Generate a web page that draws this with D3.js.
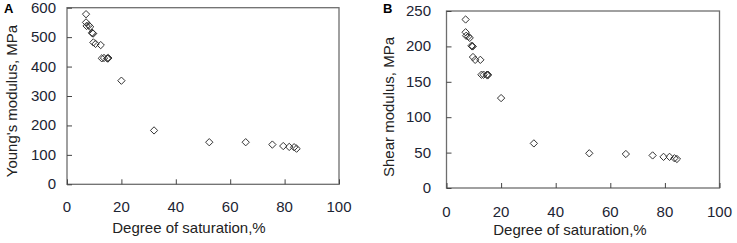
<!DOCTYPE html>
<html>
<head>
<meta charset="utf-8">
<script src="https://cdn.jsdelivr.net/npm/d3@7"></script>
<style>
  body { margin: 0; background: #fff; }
  text { font-family: "Liberation Sans", Arial, sans-serif; }
</style>
</head>
<body>
<script>
// degree of saturation (%) for each sample
const saturation = [7.0, 7.0, 7.2, 8.0, 8.5, 9.2, 9.4, 9.6, 9.7, 10.5, 12.4, 12.8, 13.6, 14.8, 15.0, 15.2,
    20.0, 32.0, 52.3, 65.7, 75.5, 79.5, 81.7, 83.5, 84.4];
const youngs = [578, 550, 538, 540, 535, 515, 513, 512, 482, 477, 473, 428, 429, 428, 427, 429,
    352, 183, 143, 143, 135, 130, 127, 126, 121];
const shear = [238, 220, 215, 214, 212, 201, 200, 200, 185, 181, 181, 160, 160, 160, 159, 160,
    127, 63, 49, 48, 46, 44, 44, 42, 41];

const x_ticks = [0, 20, 40, 60, 80, 100];
const youngs_ticks = [0, 100, 200, 300, 400, 500, 600];
const shear_ticks = [0, 50, 100, 150, 200, 250];
const x_title = "Degree of saturation,%";

var width = 737;
var height = 243;

var svg = d3.select('body')
    .append('svg')
    .attr('width', width)
    .attr('height', height);

function drawPanel(p) {
    var x_scale = d3.scaleLinear().domain([0, 100]).range([p.left, p.right]);
    var y_scale = d3.scaleLinear().domain([0, d3.max(p.ticks)]).range([p.bottom, p.top]);

    var g = svg.append('g');

    // frame
    g.append('rect')
        .attr('x', p.left)
        .attr('y', p.top)
        .attr('width', p.right - p.left)
        .attr('height', p.bottom - p.top)
        .attr('fill', 'none')
        .attr('stroke', '#6e6e6e')
        .attr('stroke-width', 1.3);

    // ticks point inward
    var x_axis = d3.axisTop(x_scale).tickValues(x_ticks).tickSize(5).tickFormat('');
    var y_axis = d3.axisRight(y_scale).tickValues(p.ticks).tickSize(5).tickFormat('');

    g.append('g')
        .attr('transform', 'translate(0,' + p.bottom + ')')
        .call(x_axis)
        .call(a => a.select('.domain').remove())
        .selectAll('line').attr('stroke', '#444');

    g.append('g')
        .attr('transform', 'translate(' + p.left + ',0)')
        .call(y_axis)
        .call(a => a.select('.domain').remove())
        .selectAll('line').attr('stroke', '#444');

    // tick labels
    g.selectAll('.xlab')
        .data(x_ticks)
        .enter()
        .append('text')
        .attr('x', d => x_scale(d))
        .attr('y', p.bottom + p.xlab_dy)
        .attr('text-anchor', 'middle')
        .attr('font-size', '15px')
        .attr('fill', '#1c2433')
        .text(d => d);

    g.selectAll('.ylab')
        .data(p.ticks)
        .enter()
        .append('text')
        .attr('x', p.ylab_x)
        .attr('y', d => y_scale(d) + 5)
        .attr('text-anchor', 'end')
        .attr('font-size', '15px')
        .attr('fill', '#1c2433')
        .text(d => d);

    // axis titles
    g.append('text')
        .attr('x', p.xtitle_x)
        .attr('y', p.xtitle_y)
        .attr('text-anchor', 'middle')
        .attr('font-size', '15px')
        .attr('fill', '#222')
        .text(x_title);

    g.append('text')
        .attr('transform', 'translate(' + p.ytitle_x + ',' + p.ytitle_y + ') rotate(-90)')
        .attr('text-anchor', 'middle')
        .attr('font-size', '15px')
        .attr('fill', '#222')
        .text(p.ytitle);

    g.append('text')
        .attr('x', p.letter_x)
        .attr('y', 13)
        .attr('font-size', '13px')
        .attr('font-weight', 'bold')
        .attr('fill', '#000')
        .text(p.letter);

    var diamond = d3.symbol().type(d3.symbolDiamond2).size(34);

    g.selectAll('.pt')
        .data(saturation.map((s, i) => ({s: s, v: p.values[i]})))
        .enter()
        .append('path')
        .attr('d', diamond)
        .attr('transform', d => 'translate(' + x_scale(d.s) + ',' + y_scale(d.v) + ')')
        .attr('fill', 'none')
        .attr('stroke', '#333')
        .attr('stroke-width', 1);
}

drawPanel({
    left: 67, right: 339, top: 7.7, bottom: 184.3,
    ticks: youngs_ticks, values: youngs,
    ylab_x: 56, xlab_dy: 28,
    xtitle_x: 189, xtitle_y: 233,
    ytitle: "Young's modulus, MPa", ytitle_x: 17, ytitle_y: 101,
    letter: 'A', letter_x: 4
});

drawPanel({
    left: 446.5, right: 719.5, top: 11, bottom: 188,
    ticks: shear_ticks, values: shear,
    ylab_x: 431, xlab_dy: 29,
    xtitle_x: 570, xtitle_y: 235,
    ytitle: "Shear modulus, MPa", ytitle_x: 394, ytitle_y: 107,
    letter: 'B', letter_x: 383
});
</script>
</body>
</html>
